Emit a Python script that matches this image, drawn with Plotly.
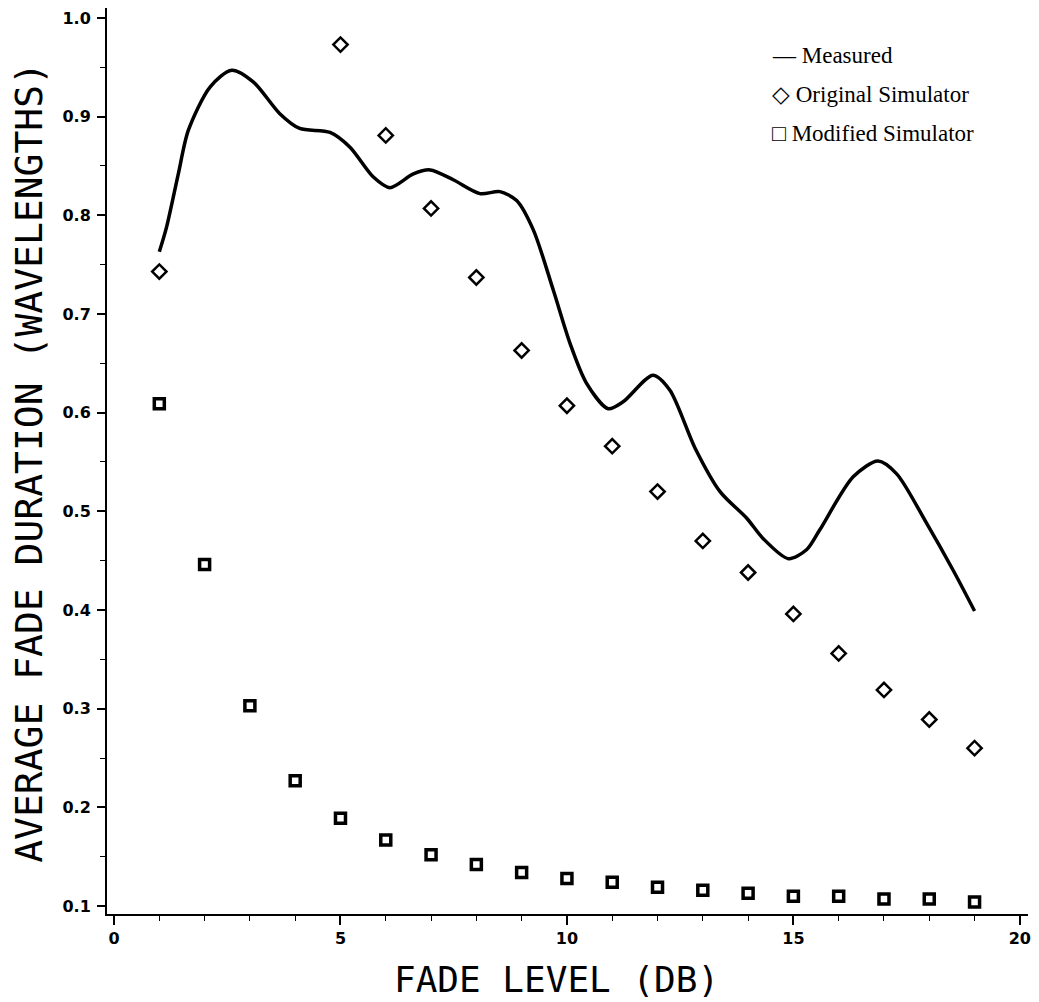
import plotly.graph_objects as go

# Fade level (dB) and average fade duration (wavelengths)
meas_x = [1.0, 1.16, 1.42, 1.64, 2.12, 2.6, 3.08, 3.66, 4.1, 4.77, 5.21, 5.72,
          6.09, 6.61, 6.98, 7.49, 8.08, 8.52, 8.89, 9.26, 9.7, 10.07, 10.43,
          10.91, 11.24, 11.9, 12.27, 12.83, 13.38, 13.97, 14.33, 14.89, 15.29,
          15.58, 16.32, 16.87, 17.28, 17.94, 18.53, 19.0]
meas_y = [0.763, 0.788, 0.842, 0.886, 0.930, 0.947, 0.935, 0.903, 0.888, 0.884,
          0.869, 0.839, 0.828, 0.842, 0.846, 0.836, 0.822, 0.824, 0.815, 0.785,
          0.724, 0.670, 0.630, 0.604, 0.611, 0.638, 0.623, 0.564, 0.520, 0.493,
          0.4725, 0.452, 0.461, 0.481, 0.535, 0.551, 0.538, 0.488, 0.440, 0.399]

orig_x = [1, 5, 6, 7, 8, 9, 10, 11, 12, 13, 14, 15, 16, 17, 18, 19]
orig_y = [0.743, 0.973, 0.881, 0.807, 0.737, 0.663, 0.607, 0.566, 0.520, 0.470,
          0.438, 0.396, 0.356, 0.319, 0.289, 0.260]

mod_x = list(range(1, 20))
mod_y = [0.609, 0.446, 0.303, 0.227, 0.189, 0.167, 0.152, 0.142, 0.134, 0.128,
         0.124, 0.119, 0.116, 0.113, 0.110, 0.110, 0.107, 0.107, 0.104]

x_ticks = [0, 5, 10, 15, 20]
y_ticks = [0.1, 0.2, 0.3, 0.4, 0.5, 0.6, 0.7, 0.8, 0.9, 1.0]
y_tick_text = ["0.1", "0.2", "0.3", "0.4", "0.5", "0.6", "0.7", "0.8", "0.9", "1.0"]

legend_items = ["— Measured", "◇ Original Simulator", "□ Modified Simulator"]

fig = go.Figure()
fig.add_trace(go.Scatter(
    x=meas_x, y=meas_y, mode="lines", name="Measured",
    line=dict(color="black", width=3.5, shape="spline", smoothing=0.8),
))
fig.add_trace(go.Scatter(
    x=orig_x, y=orig_y, mode="markers", name="Original Simulator",
    marker=dict(symbol="diamond-open", size=11, color="black",
                line=dict(color="black", width=2.5)),
))
fig.add_trace(go.Scatter(
    x=mod_x, y=mod_y, mode="markers", name="Modified Simulator",
    marker=dict(symbol="square-open", size=10, color="black",
                line=dict(color="black", width=3.5)),
))

tick_font = dict(family="DejaVu Sans", size=16, color="black", weight="bold")

fig.update_xaxes(
    range=[-0.155, 20.18], showline=True, linecolor="black", linewidth=2,
    showgrid=False, zeroline=False, ticks="outside", tickvals=x_ticks,
    ticklen=9, tickwidth=1.5, tickcolor="black", tickfont=tick_font,
    minor=dict(dtick=1, ticks="outside", ticklen=5, tickwidth=1, tickcolor="black"),
)
fig.update_yaxes(
    range=[0.0919, 1.0101], showline=True, linecolor="black", linewidth=2,
    showgrid=False, zeroline=False, ticks="outside", tickvals=y_ticks,
    ticktext=y_tick_text, ticklen=8, tickwidth=1.5, tickcolor="black",
    tickfont=tick_font, ticklabelstandoff=3,
    minor=dict(dtick=0.05, tick0=0.1, ticks="outside", ticklen=5, tickwidth=1,
               tickcolor="black"),
)

annotations = [
    dict(text="FADE LEVEL (DB)", xref="paper", yref="paper", x=0.5, y=0,
         xanchor="center", yanchor="middle", yshift=-65, xshift=-11,
         showarrow=False,
         font=dict(family="DejaVu Sans Mono", size=36, color="black")),
    dict(text="AVERAGE FADE DURATION (WAVELENGTHS)", xref="paper", yref="paper",
         x=0, y=0.498, xanchor="center", yanchor="middle", xshift=-78,
         textangle=-90, showarrow=False,
         font=dict(family="DejaVu Sans Mono", size=38, color="black")),
]
for i, item in enumerate(legend_items):
    annotations.append(dict(
        text=item, xref="paper", yref="paper", x=0.72, y=(914 - 55 - 39 * i) / 906,
        xanchor="left", yanchor="middle", showarrow=False,
        font=dict(family="Liberation Serif", size=23, color="black"),
    ))

fig.update_layout(
    width=1039, height=1002,
    margin=dict(l=107, r=11, t=8, b=88),
    paper_bgcolor="white", plot_bgcolor="white",
    showlegend=False,
    annotations=annotations,
)

fig.write_html("out.html")
